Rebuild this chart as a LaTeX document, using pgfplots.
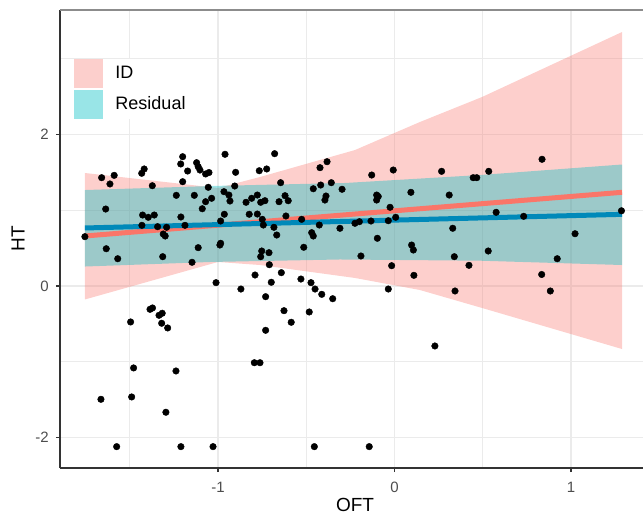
\documentclass[border=0pt]{standalone}
\usepackage{pgfplots}
\pgfplotsset{compat=1.18}
\usepackage{fontspec}
\setmainfont{Liberation Sans}
\usetikzlibrary{calc}
\definecolor{idc}{HTML}{F8766D}
\definecolor{resc}{HTML}{00BFC4}
\definecolor{redline}{RGB}{250,118,105}
\definecolor{blueline}{RGB}{0,137,185}
\definecolor{gridc}{HTML}{EBEBEB}
\definecolor{tickc}{HTML}{4D4D4D}
\begin{document}
\begin{tikzpicture}
\begin{axis}[
  scale only axis, width=583bp, height=458bp,
  xmin=-1.895, xmax=1.408, ymin=-2.403, ymax=3.644,
  axis x line*=bottom, axis y line*=left,
  axis line style={black!80, line width=1.1bp},
  xtick={-1,0,1}, xticklabels={-1,0,1},
  ytick={-2,0,2}, yticklabels={-2,0,2},
  minor xtick={-1.5,-0.5,0.5}, minor ytick={-1,1,3},
  grid=both,
  major grid style={gridc, line width=1.1bp},
  minor grid style={gridc, line width=0.55bp},
  tick align=outside, major tick length=4bp, minor tick length=0pt,
  tick style={black!80, line width=1.1bp},
  ticklabel style={font=\fontsize{15bp}{18bp}\selectfont, text=tickc},
  xticklabel style={anchor=center, inner sep=0pt, yshift=-15bp},
  yticklabel style={anchor=east, inner sep=0pt, xshift=-7bp},
  xlabel={OFT}, ylabel={HT},
  label style={font=\fontsize{19bp}{22bp}\selectfont},
  xlabel style={at={(axis description cs:0.506,-0.0808)}, anchor=center},
  ylabel style={at={(axis description cs:-0.072,0.5)}, anchor=center},
  legend style={at={(axis description cs:0.0245,0.8945)}, anchor=north west,
    draw=none, fill=white, inner sep=0pt, row sep=2bp,
    font=\fontsize{18bp}{21bp}\selectfont,
    nodes={inner sep=0pt},
    /tikz/every odd column/.append style={column sep=12bp}},
  legend cell align=left,
  legend image code/.code={\fill[#1] (0bp,-14.5bp) rectangle (29bp,14.5bp);},
]
\addlegendimage{fill=idc, fill opacity=0.35, draw=none}
\addlegendentry{ID}
\addlegendimage{fill=resc, fill opacity=0.4, draw=none}
\addlegendentry{Residual}

\draw[black!45, line width=1.1bp] (rel axis cs:0,1) -- (rel axis cs:1,1);

% ID band (upper edge left->right, lower edge right->left)
\addplot[forget plot, fill=idc, fill opacity=0.35, draw=none] coordinates {
(-1.754,1.492) (-1.000,1.294) (-0.762,1.439) (-0.224,1.795) (0.144,2.165) (0.496,2.495) (1.289,3.353)
(1.289,-0.832) (0.496,-0.290) (0.144,-0.053) (-0.224,0.106) (-0.762,0.277) (-1.000,0.317) (-1.754,-0.178)
};
% Residual band
\addplot[forget plot, fill=resc, fill opacity=0.38, draw=none] coordinates {
(-1.754,1.267) (-1.042,1.320) (-0.280,1.360) (0.485,1.465) (1.289,1.604)
(1.289,0.277) (0.485,0.334) (-0.309,0.350) (-1.042,0.317) (-1.754,0.257)
};
% fitted lines
\addplot[forget plot, redline, line width=5bp] coordinates {(-1.754,0.660) (1.289,1.237)};
\addplot[forget plot, blueline, line width=5bp] coordinates {(-1.754,0.766) (1.289,0.946)};

% observations
\addplot[forget plot, only marks, mark=*, mark size=3.3bp, black] table {
x y
-1.754 0.651
-1.659 1.430
-1.612 1.347
-1.588 1.461
-1.636 1.016
-1.633 0.492
-1.568 0.360
-1.432 1.488
-1.418 1.545
-1.372 1.324
-1.427 0.937
-1.395 0.907
-1.361 0.937
-1.431 0.801
-1.342 0.783
-1.291 0.775
-1.310 0.686
-1.299 0.660
-1.313 0.387
-1.200 1.707
-1.211 1.611
-1.172 1.518
-1.121 1.628
-1.112 1.575
-1.102 1.531
-1.070 1.479
-1.051 1.498
-1.200 1.377
-1.236 1.197
-1.134 1.197
-1.055 1.303
-1.070 1.113
-1.089 1.020
-1.210 0.911
-1.187 0.801
-1.112 0.506
-1.147 0.313
-1.036 1.158
-0.960 1.739
-0.900 1.501
-0.905 1.320
-0.966 1.245
-0.938 1.201
-0.932 1.122
-0.964 0.947
-0.985 0.858
-0.985 0.564
-0.989 0.541
-1.011 0.044
-0.870 -0.040
-0.766 1.522
-0.724 1.545
-0.679 1.747
-0.645 1.364
-0.841 1.105
-0.809 1.158
-0.777 1.201
-0.758 1.105
-0.734 1.126
-0.823 0.947
-0.777 0.950
-0.749 0.880
-0.743 0.805
-0.683 0.775
-0.667 0.673
-0.654 1.113
-0.620 1.192
-0.602 1.126
-0.615 0.924
-0.752 0.462
-0.711 0.440
-0.758 0.387
-0.709 0.281
-0.790 0.145
-0.641 0.176
-0.698 0.049
-0.730 -0.141
-0.530 0.092
-0.473 0.044
-0.450 -0.040
-0.412 -0.110
-0.350 -0.168
-0.514 0.511
-0.526 0.880
-0.460 1.284
-0.422 1.562
-0.382 1.641
-0.418 1.333
-0.358 1.364
-0.388 1.188
-0.394 1.135
-0.297 1.277
-0.426 0.805
-0.469 0.704
-0.460 0.660
-0.309 0.762
-1.495 -0.475
-1.385 -0.308
-1.371 -0.290
-1.334 -0.387
-1.316 -0.360
-1.319 -0.492
-1.285 -0.554
-1.478 -1.082
-1.238 -1.122
-1.663 -1.496
-1.489 -1.465
-1.295 -1.667
-1.574 -2.121
-1.210 -2.121
-1.028 -2.121
-0.626 -0.326
-0.483 -0.343
-0.585 -0.479
-0.730 -0.585
-0.794 -1.013
-0.762 -1.013
-0.454 -2.121
-0.143 -2.121
-0.035 -0.040
0.343 -0.066
0.883 -0.066
0.229 -0.792
-0.129 1.465
-0.007 1.531
-0.101 1.201
-0.092 1.182
-0.101 1.135
0.093 1.237
-0.025 1.039
0.007 0.907
-0.035 0.862
-0.133 0.858
-0.224 0.828
-0.199 0.849
-0.097 0.630
0.097 0.541
0.107 0.475
-0.190 0.396
-0.016 0.268
0.110 0.141
0.267 1.514
0.446 1.430
0.466 1.430
0.534 1.514
0.310 1.201
0.330 0.762
0.339 0.387
0.422 0.273
0.531 0.462
0.836 1.673
0.576 0.973
0.732 0.920
1.286 0.993
1.023 0.690
0.922 0.360
0.834 0.152
};
\end{axis}
\pgfresetboundingbox
\path[use as bounding box] ($(current axis.south west)+(-60bp,-47bp)$) rectangle ($(current axis.north east)+(0bp,10bp)$);
\end{tikzpicture}
\end{document}
